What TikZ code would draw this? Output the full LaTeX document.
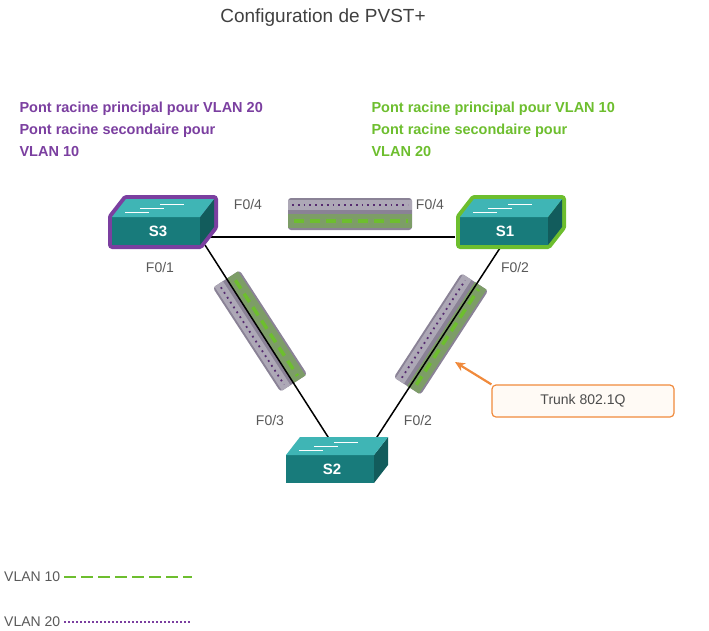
\documentclass[tikz,border=0pt]{standalone}
\usepackage{fontspec}
\setmainfont{Liberation Sans}
\usetikzlibrary{arrows.meta}
\begin{document}
\definecolor{teal1}{HTML}{1E9A9A}
\definecolor{teal2}{HTML}{3FB5B5}
\definecolor{purp}{HTML}{7B3FA0}
\definecolor{grn}{HTML}{6DBE2E}
\definecolor{tubec}{HTML}{8A8296}
\definecolor{orng}{HTML}{F08A3C}
\begin{tikzpicture}[x=1pt,y=-1pt,
  lbl/.style={font=\fontsize{14}{15}\selectfont,text=black!65},
  hdr/.style={font=\bfseries\fontsize{14.5}{22}\selectfont,anchor=north west,align=left},
  sw/.style={font=\bfseries\fontsize{15}{15}\selectfont,text=white},
  link/.style={line width=1.5pt,black}]
\useasboundingbox (0,0) rectangle (709,630);
\tikzset{
 pics/halo/.style={code={
  \draw[#1,line width=8pt,line join=round,fill=#1] (-50,0) -- (-36,-18) -- (52,-18) -- (52,10) -- (38,28) -- (-50,28) -- cycle;
 }},
 pics/switch/.style={code={
  \fill[teal1!80!black] (-50,0) rectangle (38,28);
  \fill[teal1!60!black] (38,0) -- (52,-18) -- (52,10) -- (38,28) -- cycle;
  \fill[teal2] (-50,0) -- (-36,-18) -- (52,-18) -- (38,0) -- cycle;
  \foreach \yy/\xx in {-13/10,-9/-10,-5/-25}{\draw[white,line width=0.8pt] (\xx-12,\yy) -- (\xx+12,\yy);}
 }},
 tube/.pic={
  \fill[tubec,rounded corners=3pt] (-62,-16) rectangle (62,16);
  \fill[tubec!70!white] (-62,-14) rectangle (62,-4);
  \draw[purp!70!black,line width=1.8pt,dash pattern=on 1.8pt off 4pt] (-58,-9) -- (58,-9);
  \fill[grn!45!tubec] (-62,0) rectangle (62,14);
  \draw[grn,line width=3.5pt,dash pattern=on 10pt off 6pt] (-56,7) -- (58,7);
 }}
\node[font=\fontsize{19}{20}\selectfont,text=black!75] (title) at (323,18) {Configuration de PVST+};
\node[hdr,text=purp] (t3) at (16,98) {Pont racine principal pour VLAN 20\\Pont racine secondaire pour\\VLAN 10};
\node[hdr,text=grn] (t1) at (368,98) {Pont racine principal pour VLAN 10\\Pont racine secondaire pour\\VLAN 20};
% links
\coordinate (a3) at (210,237); \coordinate (a1) at (455,237);
\coordinate (b3) at (205,245); \coordinate (b2) at (330,440);
\coordinate (c1) at (500,248); \coordinate (c2) at (375,440);
\draw[link] (a3) -- (a1);
\pic at (350,214) {tube};
\pic[rotate=-57,yscale=-1] at (260,331) {tube};
\pic[rotate=57] at (441,334) {tube};
\draw[link] (b3) -- (b2);
\draw[link] (c1) -- (c2);
% switches
\pic at (162,217) {halo=purp};
\pic at (510,217) {halo=grn};
\pic at (162,217) {switch};
\pic at (510,217) {switch};
\pic at (336,455) {switch};
\node[sw] (s3) at (158,231) {S3};
\node[sw] (s1) at (505,231) {S1};
\node[sw] (s2) at (332,469) {S2};
\node[lbl] (p1) at (248,204) {F0/4};
\node[lbl] (p2) at (430,204) {F0/4};
\node[lbl] (p3) at (160,267) {F0/1};
\node[lbl] (p4) at (515,267) {F0/2};
\node[lbl] (p5) at (270,420) {F0/3};
\node[lbl] (p6) at (418,420) {F0/2};
% callout
\node[draw=orng,line width=1.2pt,rounded corners=4pt,fill=orange!4,minimum width=182pt,minimum height=32pt,font=\fontsize{14}{15}\selectfont,text=black!70] (tr) at (583,401) {Trunk 802.1Q};
\coordinate (tip) at (455,362);
\draw[orng,line width=2.2pt,-{Stealth[length=10pt,width=9pt]}] (tr.north west) -- (tip);
% legend
\node[lbl,anchor=west,inner sep=1pt] (v10) at (3,577) {VLAN 10};
\node[lbl,anchor=west,inner sep=1pt] (v20) at (3,622) {VLAN 20};
\coordinate (e10) at (192,577); \coordinate (e20) at (192,622);
\draw[grn,line width=2.5pt,dash pattern=on 12pt off 5pt] ([xshift=3pt]v10.east) -- (e10);
\draw[purp,line width=2pt,dash pattern=on 2pt off 2pt] ([xshift=3pt]v20.east) -- (e20);
\end{tikzpicture}
\end{document}
